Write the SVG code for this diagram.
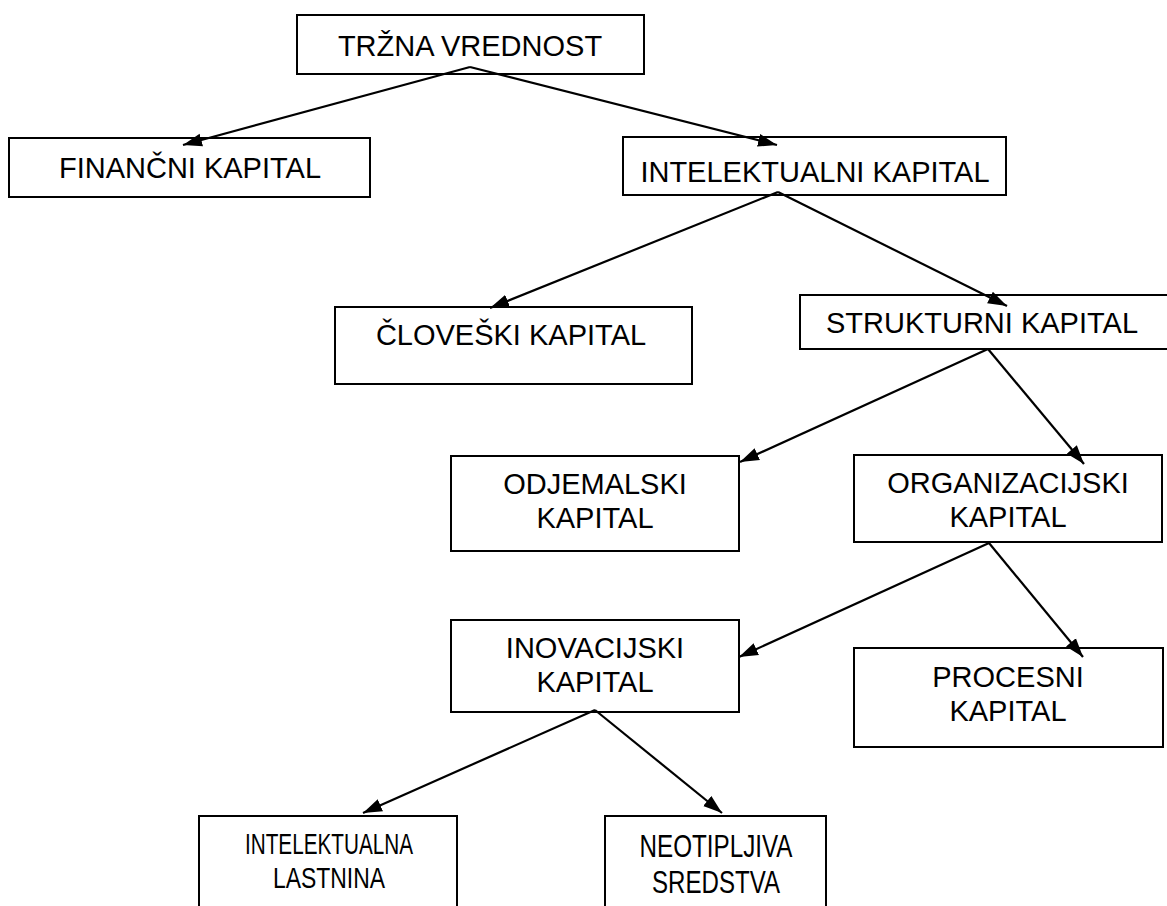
<svg xmlns="http://www.w3.org/2000/svg" width="1167" height="906" viewBox="0 0 1167 906">
<defs>
<marker id="ah" markerUnits="userSpaceOnUse" markerWidth="20" markerHeight="14" refX="19" refY="7" orient="auto">
<path d="M0,0.5 L19,7 L0,13.5 z" fill="#000"/>
</marker>
</defs>
<style>
.box{fill:#fff;stroke:#000;stroke-width:2}
.t{font-family:"Liberation Sans",Arial,sans-serif;font-size:29px;fill:#000;text-anchor:middle}
.b{font-size:30px}
.b2{font-size:31px}
.c line{stroke:#000;stroke-width:2.2;marker-end:url(#ah)}
</style>
<rect width="1167" height="906" fill="#fff"/>
<g id="n-trzna"><rect class="box" x="297" y="15" width="347" height="59"/><text class="t" x="470" y="56">TRŽNA VREDNOST</text></g>
<g id="n-financni"><rect class="box" x="9" y="138" width="361" height="59"/><text class="t" x="190" y="178">FINANČNI KAPITAL</text></g>
<g id="n-intelektualni"><rect class="box" x="623" y="137" width="383" height="58"/><text class="t" x="815" y="182">INTELEKTUALNI KAPITAL</text></g>
<g id="n-cloveski"><rect class="box" x="335" y="307" width="357" height="77"/><text class="t" x="511" y="345">ČLOVEŠKI KAPITAL</text></g>
<g id="n-strukturni"><rect class="box" x="800" y="295" width="380" height="54"/><text class="t" x="982" y="333">STRUKTURNI KAPITAL</text></g>
<g id="n-odjemalski"><rect class="box" x="451" y="456" width="288" height="95"/><text class="t" x="595" y="494">ODJEMALSKI</text><text class="t" x="595" y="528">KAPITAL</text></g>
<g id="n-organizacijski"><rect class="box" x="854" y="455" width="308" height="87"/><text class="t" x="1008" y="493">ORGANIZACIJSKI</text><text class="t" x="1008" y="527">KAPITAL</text></g>
<g id="n-inovacijski"><rect class="box" x="451" y="620" width="288" height="92"/><text class="t" x="595" y="658">INOVACIJSKI</text><text class="t" x="595" y="692">KAPITAL</text></g>
<g id="n-procesni"><rect class="box" x="854" y="648" width="309" height="99"/><text class="t" x="1008" y="687">PROCESNI</text><text class="t" x="1008" y="721">KAPITAL</text></g>
<g id="n-lastnina"><rect class="box" x="199" y="816" width="258" height="100"/><text class="t b" x="329" y="854" textLength="168" lengthAdjust="spacingAndGlyphs">INTELEKTUALNA</text><text class="t b" x="329" y="888" textLength="112" lengthAdjust="spacingAndGlyphs">LASTNINA</text></g>
<g id="n-neotipljiva"><rect class="box" x="605" y="816" width="221" height="100"/><text class="t b2" x="716" y="857" textLength="153" lengthAdjust="spacingAndGlyphs">NEOTIPLJIVA</text><text class="t b2" x="716" y="893" textLength="128" lengthAdjust="spacingAndGlyphs">SREDSTVA</text></g>
<g id="connectors" class="c">
<line x1="470" y1="67" x2="183" y2="145"/>
<line x1="470" y1="67" x2="777" y2="145"/>
<line x1="778" y1="192" x2="490" y2="308"/>
<line x1="778" y1="192" x2="1007" y2="306"/>
<line x1="988" y1="349" x2="740" y2="462"/>
<line x1="988" y1="349" x2="1084" y2="464"/>
<line x1="989" y1="543" x2="739" y2="657"/>
<line x1="989" y1="543" x2="1083" y2="657"/>
<line x1="595" y1="710" x2="363" y2="813"/>
<line x1="595" y1="710" x2="722" y2="813"/>
</g>
</svg>
